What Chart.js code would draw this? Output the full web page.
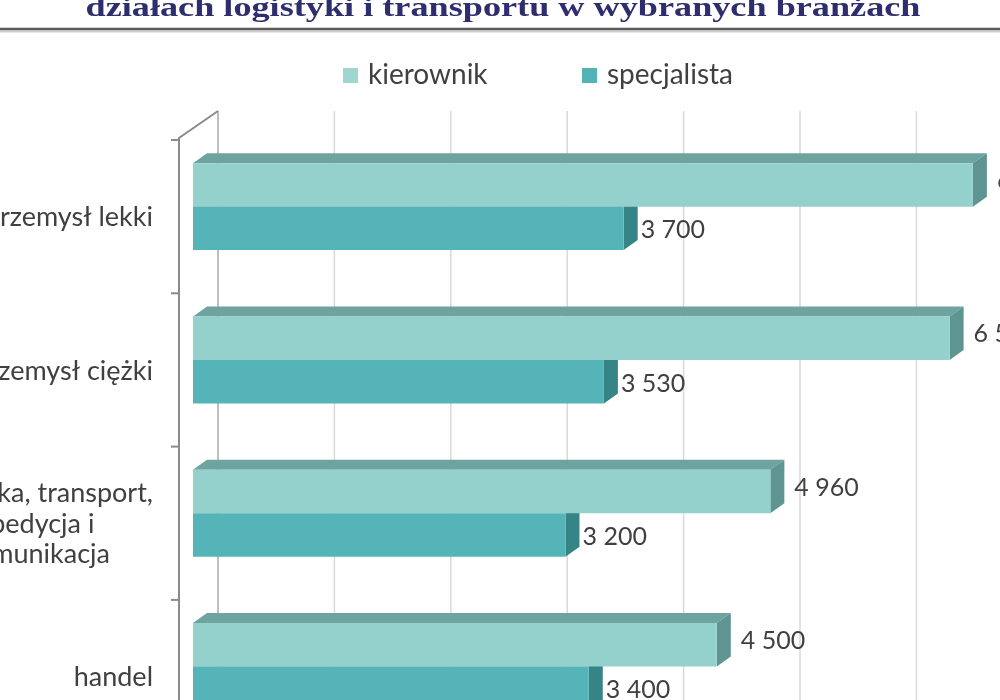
<!DOCTYPE html>
<html lang="pl">
<head>
    <meta charset="UTF-8">
    <meta name="viewport" content="width=device-width, initial-scale=1.0">
    <title>Wynagrodzenia w logistyce i transporcie</title>
    <script src="https://cdn.jsdelivr.net/npm/chart.js"></script>
    <style>
        html, body { margin: 0; padding: 0; background: #fff; overflow: hidden; }
        #wrap { position: absolute; left: 0; top: 0; width: 1100px; height: 800px; }
    </style>
</head>

<body>
    <div id="wrap"><canvas id="payChart"></canvas></div>

    <script>
        // dane
        const tytul = 'działach logistyki i transportu w wybranych branżach';
        const branze = ['przemysł lekki', 'przemysł ciężki', ['logistyka, transport,', 'spedycja i', 'komunikacja'], 'handel'];
        const kierownik = [6700, 6500, 4960, 4500];
        const specjalista = [3700, 3530, 3200, 3400];
        const osX = [0, 1000, 2000, 3000, 4000, 5000, 6000, 7000];

        // wymiary kadru
        const W = 1100, H = 800;
        const X0 = 193, PX_NA_1000 = 116.4;
        const TOP = 130, CAT_H = 153.3;
        const DX = 14, DY = 10;          // głębokość słupków 3D
        const WALL_DX = 25, WALL_TOP = 111;

        const fmt = v => String(v).replace(/\B(?=(\d{3})+(?!\d))/g, '\u00a0');

        function poly(ctx, pts) {
            ctx.beginPath();
            ctx.moveTo(pts[0][0], pts[0][1]);
            pts.slice(1).forEach(p => ctx.lineTo(p[0], p[1]));
            ctx.closePath();
            ctx.fill();
        }

        // tylna ściana, oś i boki słupków
        const bars3d = {
            id: 'bars3d',
            beforeDatasetsDraw(chart) {
                const { ctx, chartArea, scales: { x } } = chart;
                ctx.save();
                ctx.lineWidth = 1.5;
                osX.forEach(v => {
                    const px = x.getPixelForValue(v) + WALL_DX;
                    ctx.strokeStyle = v === 0 ? '#a8a8a8' : '#d9d9d9';
                    ctx.beginPath();
                    ctx.moveTo(px, WALL_TOP);
                    ctx.lineTo(px, chart.height);
                    ctx.stroke();
                });

                const ax = chartArea.left - DX;
                ctx.strokeStyle = '#8a8a8a';
                ctx.lineWidth = 2;
                ctx.beginPath();
                ctx.moveTo(ax, chart.height);
                ctx.lineTo(ax, chartArea.top + 8);
                ctx.lineTo(chartArea.left + WALL_DX, WALL_TOP);
                ctx.stroke();
                const n = chart.data.labels.length;
                for (let i = 0; i <= n; i++) {
                    const yy = chartArea.top + i * chartArea.height / n + DY;
                    ctx.beginPath();
                    ctx.moveTo(ax - 8, yy);
                    ctx.lineTo(ax, yy);
                    ctx.stroke();
                }

                chart.data.datasets.forEach((ds, di) => {
                    chart.getDatasetMeta(di).data.forEach(bar => {
                        const { x: xe, y: yc, base, height } = bar.getProps(['x', 'y', 'base', 'height'], true);
                        const top = yc - height / 2, bot = yc + height / 2;
                        ctx.fillStyle = ds.topColor;
                        poly(ctx, [[base, top], [base + DX, top - DY], [xe + DX, top - DY], [xe, top]]);
                        ctx.fillStyle = ds.sideColor;
                        poly(ctx, [[xe, top], [xe + DX, top - DY], [xe + DX, bot - DY], [xe, bot]]);
                    });
                });
                ctx.restore();
            }
        };

        // tytuł, legenda, opisy kategorii i wartości
        const opisy = {
            id: 'opisy',
            afterDraw(chart) {
                const { ctx, chartArea } = chart;

                ctx.save();
                ctx.font = 'bold 28px "Liberation Serif"';
                const tw = ctx.measureText(tytul).width;
                ctx.translate(503, 16);
                ctx.scale(835 / tw, 1);
                ctx.fillStyle = '#2e2e6e';
                ctx.textAlign = 'center';
                ctx.textBaseline = 'alphabetic';
                ctx.fillText(tytul, 0, 0);
                ctx.restore();

                ctx.save();
                ctx.strokeStyle = '#cfcfcf';
                ctx.lineWidth = 2;
                ctx.beginPath(); ctx.moveTo(0, 31.5); ctx.lineTo(W, 31.5); ctx.stroke();
                ctx.strokeStyle = '#5a5a5a';
                ctx.lineWidth = 2.5;
                ctx.beginPath(); ctx.moveTo(0, 29); ctx.lineTo(W, 29); ctx.stroke();

                // legenda
                ctx.font = '28px Lato';
                ctx.textBaseline = 'middle';
                ctx.textAlign = 'left';
                const legX = [343, 582];
                chart.data.datasets.forEach((ds, i) => {
                    ctx.fillStyle = ds.legendColor;
                    ctx.fillRect(legX[i], 68, 15, 15);
                    ctx.fillStyle = '#404040';
                    ctx.fillText(ds.label, legX[i] + 25, 75);
                });

                // kategorie
                ctx.font = '27px Lato';
                ctx.fillStyle = '#404040';
                const right = chartArea.left - DX - 26;
                const n = chart.data.labels.length;
                chart.data.labels.forEach((lab, i) => {
                    const lines = Array.isArray(lab) ? lab : [lab];
                    const cy = chartArea.top + (i + 0.5) * chartArea.height / n + 11;
                    const lh = 30.5;
                    const maxW = Math.max(...lines.map(l => ctx.measureText(l).width));
                    lines.forEach((l, k) => {
                        const yy = cy + (k - (lines.length - 1) / 2) * lh;
                        if (lines.length > 1) {
                            ctx.textAlign = 'center';
                            ctx.fillText(l, right - maxW / 2, yy);
                        } else {
                            ctx.textAlign = 'right';
                            ctx.fillText(l, right, yy);
                        }
                    });
                });

                // wartości
                ctx.font = '25px Lato';
                ctx.textAlign = 'left';
                const gap = [24, 17], dy = [-4, 2];
                chart.data.datasets.forEach((ds, di) => {
                    chart.getDatasetMeta(di).data.forEach((bar, j) => {
                        ctx.fillText(fmt(ds.data[j]), bar.x + gap[di], bar.y + dy[di]);
                    });
                });
                ctx.restore();
            }
        };

        const ctx = document.getElementById('payChart').getContext('2d');
        const payChart = new Chart(ctx, {
            type: 'bar',
            data: {
                labels: branze,
                datasets: [
                    {
                        label: 'kierownik',
                        data: kierownik,
                        backgroundColor: '#94d1cc',
                        topColor: '#6ea3a0',
                        sideColor: '#5e9592',
                        legendColor: '#9fd6d0',
                    },
                    {
                        label: 'specjalista',
                        data: specjalista,
                        backgroundColor: '#55b4b7',
                        topColor: '#4a9c9e',
                        sideColor: '#358486',
                        legendColor: '#52b3b5',
                    }
                ]
            },
            options: {
                indexAxis: 'y',
                responsive: true,
                maintainAspectRatio: false,
                animation: false,
                categoryPercentage: 0.567,
                barPercentage: 1,
                layout: {
                    padding: {
                        left: X0,
                        top: TOP,
                        right: W - (X0 + 7 * PX_NA_1000),
                        bottom: H - (TOP + 4 * CAT_H)
                    }
                },
                scales: {
                    x: { display: false, min: osX[0], max: osX[osX.length - 1] },
                    y: { display: false }
                },
                plugins: {
                    legend: { display: false },
                    tooltip: { enabled: false }
                }
            },
            plugins: [bars3d, opisy]
        });
    </script>
</body>
</html>
